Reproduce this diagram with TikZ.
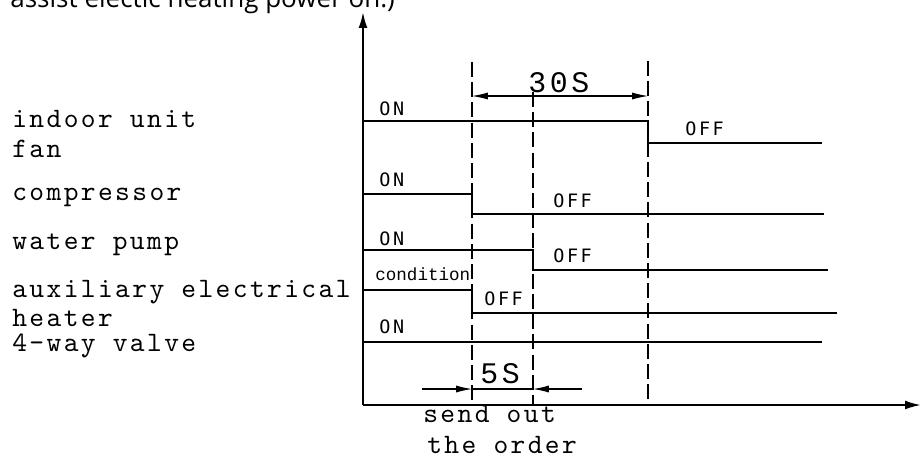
\documentclass[tikz,border=0pt]{standalone}
\usepackage{fontspec}
\newfontfamily\itemfont{lmmono10-regular}[Extension=.otf, LetterSpace=8.5]
\newfontfamily\condfont{Liberation Mono}
\newfontfamily\notefont{Open Sans}
\newfontfamily\statefont{DejaVu Sans Mono}[LetterSpace=14]
\newfontfamily\dimfont{Liberation Mono}[LetterSpace=12]
\usetikzlibrary{arrows.meta}

\begin{document}
\begin{tikzpicture}[
    x=0.02cm, y=-0.02cm,
    axis/.style={line width=1.1pt, -{Latex[length=9pt, width=5pt]}},
    level/.style={line width=0.8pt},
    marker/.style={line width=1.1pt, dash pattern=on 8.5pt off 3pt},
    dimline/.style={line width=0.6pt},
    Dim/.tip={Latex[length=9pt, width=4pt]},
    itemtext/.style={anchor=base west, inner sep=0pt, font=\itemfont\fontsize{16}{18}\selectfont},
    statetext/.style={anchor=base west, inner sep=0pt, font=\statefont\fontsize{10.5}{12}\selectfont},
    condtext/.style={anchor=base west, inner sep=0pt, font=\condfont\fontsize{10}{12}\selectfont},
    dimtext/.style={anchor=base west, inner sep=0pt, font=\dimfont\fontsize{17}{20}\selectfont},
    notetext/.style={anchor=base west, inner sep=0pt, font=\notefont\fontsize{14.8}{17}\selectfont}
]
\useasboundingbox (0,0) rectangle (920,458);
\clip (0,0) rectangle (920,458);

% note cut at the top
\node[notetext] (note) at (10,7) {assist electic heating power on.)};

% axes
\coordinate (o) at (363,405);
\draw[axis] (o) -- (363,12);
\draw[axis] (o) -- (921,405);

% time marks
\draw[marker] (472,62) -- (472,405);
\draw[marker] (533,92) -- (533,405);
\draw[marker] (648,61) -- (648,405);

% signal levels
\draw[level] (363,121) -- (648,121) -- (648,143) -- (822,143);
\draw[level] (363,194) -- (472,194) -- (472,214) -- (824,214);
\draw[level] (363,250) -- (533,250) -- (533,270) -- (828,270);
\draw[level] (363,290) -- (472,290) -- (472,313) -- (837,313);
\draw[level] (363,342) -- (822,342);

% left labels
\node[itemtext] (fan) at (12,127) {indoor unit};
\node[itemtext] (fanb) at (12,157) {fan};
\node[itemtext] (comp) at (12,200) {compressor};
\node[itemtext] (pump) at (12,249) {water pump};
\node[itemtext] (heat) at (12,297) {auxiliary electrical};
\node[itemtext] (heatb) at (12,326) {heater};
\node[itemtext] (valve) at (12,351) {4-way valve};

% states
\node[statetext] (fanon) at (379,115) {ON};
\node[statetext] (compon) at (379,186) {ON};
\node[statetext] (pumpon) at (379,245) {ON};
\node[condtext] (heatcond) at (375,280) {condition};
\node[statetext] (valveon) at (379,333) {ON};
\node[statetext] (fanoff) at (685,135) {OFF};
\node[statetext] (compoff) at (553,207) {OFF};
\node[statetext] (pumpoff) at (553,262) {OFF};
\node[statetext] (heatoff) at (484,305) {OFF};

% dimensions
\draw[dimline, {Dim}-{Dim}] (472,96) -- (648,96);
\node[dimtext] (long) at (528,92) {30S};
\draw[dimline, -{Dim}] (422,389) -- (472,389);
\draw[dimline] (472,389) -- (533,389);
\draw[dimline, -{Dim}] (582,389) -- (533,389);
\node[dimtext] (short) at (480,383) {5S};

% order
\node[itemtext] (order) at (423,422) {send out};
\node[itemtext] (orderb) at (427,453) {the order};
\end{tikzpicture}
\end{document}
